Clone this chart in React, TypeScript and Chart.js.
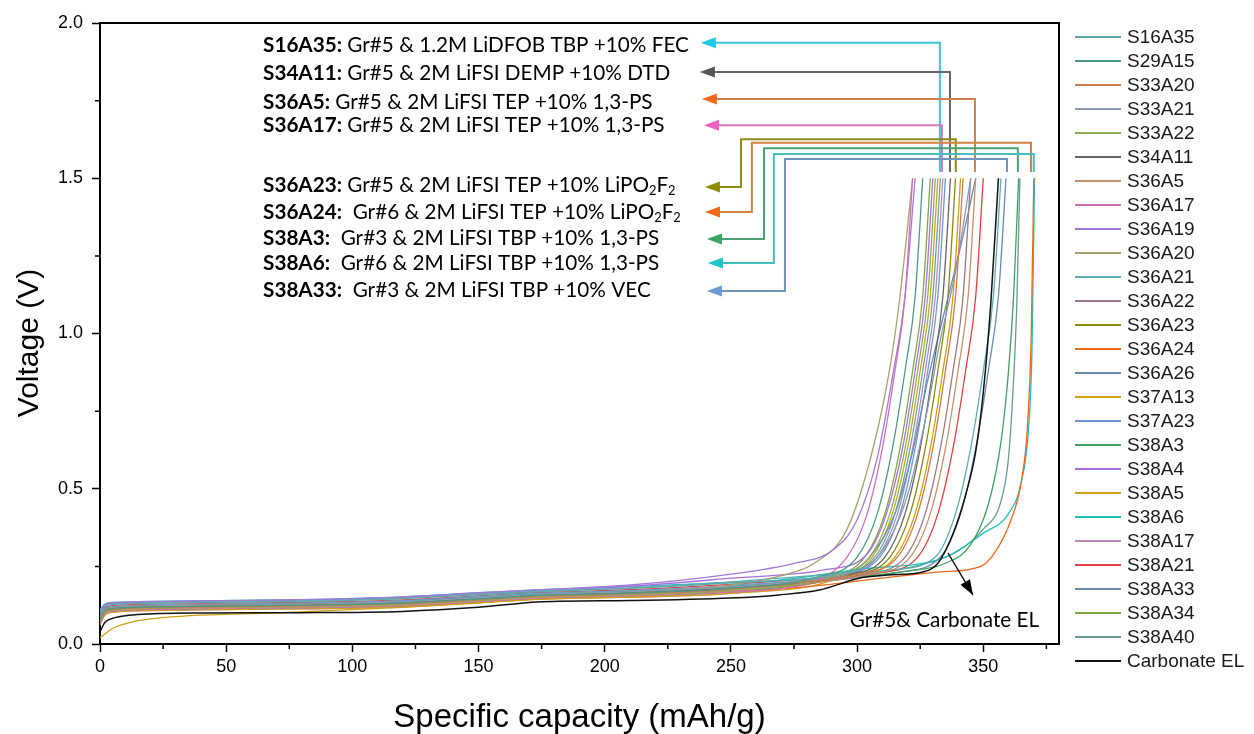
import React, { useEffect, useRef } from "react";
import { Chart, registerables } from "chart.js";
Chart.register(...registerables);

type P = [number, number];

// ---------- series (Specific capacity mAh/g, Voltage V) ----------
const S16A35: P[] = [[0,0.101],[2,0.122],[6,0.128],[15,0.131],[40,0.134],[80,0.137],[120,0.146],[150,0.159],[175,0.169],[210,0.179],[250,0.197],[291,0.225],[307,0.28],[315,0.42],[321,0.63],[326,0.88],[330,1.12],[333,1.5]];
const S29A15: P[] = [[0,0.080],[2,0.107],[6,0.115],[15,0.118],[40,0.121],[80,0.125],[120,0.132],[150,0.145],[175,0.157],[210,0.164],[250,0.179],[284,0.215],[300,0.28],[308,0.42],[314,0.63],[319,0.88],[323,1.12],[326,1.5]];
const S33A20: P[] = [[0,0.077],[2,0.104],[6,0.113],[15,0.116],[40,0.119],[80,0.123],[120,0.130],[150,0.143],[175,0.155],[210,0.162],[250,0.176],[280,0.2],[300,0.225],[316,0.28],[324,0.42],[330,0.63],[335,0.88],[339,1.12],[342,1.5]];
const S33A21: P[] = [[0,0.086],[2,0.111],[6,0.118],[15,0.122],[40,0.125],[80,0.128],[120,0.136],[150,0.149],[175,0.160],[210,0.168],[250,0.184],[280,0.205],[295,0.222],[310,0.3],[320,0.48],[327,0.72],[333,0.98],[339,1.2],[345,1.5]];
const S33A22: P[] = [[0,0.074],[2,0.102],[6,0.111],[15,0.114],[40,0.117],[80,0.121],[120,0.128],[150,0.141],[175,0.153],[210,0.160],[250,0.173],[289,0.215],[305,0.28],[313,0.42],[319,0.63],[324,0.88],[328,1.12],[331,1.5]];
const S34A11: P[] = [[0,0.083],[2,0.109],[6,0.116],[15,0.120],[40,0.123],[80,0.126],[120,0.134],[150,0.147],[175,0.158],[210,0.166],[250,0.181],[295,0.222],[311,0.28],[319,0.42],[325,0.63],[330,0.88],[334,1.12],[337,1.5]];
const S36A5: P[] = [[0,0.071],[2,0.100],[6,0.109],[15,0.113],[40,0.116],[80,0.119],[120,0.126],[150,0.139],[175,0.151],[210,0.158],[250,0.171],[280,0.195],[305,0.225],[321,0.28],[329,0.42],[335,0.63],[340,0.88],[344,1.12],[347,1.5]];
const S36A17: P[] = [[0,0.068],[2,0.098],[6,0.107],[15,0.111],[40,0.114],[80,0.117],[120,0.124],[150,0.137],[175,0.149],[210,0.156],[250,0.168],[280,0.196],[296,0.28],[304,0.42],[310,0.63],[315,0.88],[319,1.12],[322,1.5]];
const S36A19: P[] = [[0,0.11],[2,0.128],[6,0.134],[15,0.136],[40,0.139],[80,0.143],[120,0.152],[150,0.165],[175,0.175],[210,0.19],[250,0.225],[275,0.26],[290,0.3],[300,0.4],[308,0.6],[314,0.86],[319,1.12],[323,1.5]];
const S36A20: P[] = [[0,0.080],[2,0.107],[6,0.115],[15,0.118],[40,0.121],[80,0.125],[120,0.132],[150,0.145],[175,0.157],[210,0.166],[250,0.19],[270,0.22],[283,0.26],[296,0.37],[306,0.62],[313,0.89],[317,1.12],[322,1.5]];
const S36A21: P[] = [[0,0.104],[2,0.124],[6,0.130],[15,0.132],[40,0.135],[80,0.139],[120,0.148],[150,0.161],[175,0.171],[210,0.181],[250,0.200],[290,0.225],[315,0.24],[331,0.28],[339,0.42],[345,0.63],[350,0.88],[354,1.12],[357,1.5]];
const S36A22: P[] = [[0,0.074],[2,0.102],[6,0.111],[15,0.114],[40,0.117],[80,0.121],[120,0.128],[150,0.141],[175,0.153],[210,0.160],[250,0.173],[280,0.198],[303,0.225],[319,0.28],[327,0.42],[333,0.63],[338,0.88],[342,1.12],[345,1.5]];
const S36A23: P[] = [[0,0.071],[2,0.100],[6,0.109],[15,0.113],[40,0.116],[80,0.119],[120,0.126],[150,0.139],[175,0.151],[210,0.158],[250,0.171],[297,0.222],[313,0.28],[321,0.42],[327,0.63],[332,0.88],[336,1.12],[339,1.5]];
const S36A24: P[] = [[0,0.086],[2,0.111],[6,0.118],[15,0.122],[40,0.125],[80,0.128],[120,0.134],[150,0.143],[175,0.150],[210,0.158],[250,0.168],[281,0.185],[310,0.212],[333,0.232],[349,0.25],[355,0.3],[361,0.4],[365,0.52],[367.5,0.7],[369,1.0],[370,1.5]];
const S36A26: P[] = [[0,0.068],[2,0.098],[6,0.107],[15,0.111],[40,0.114],[80,0.117],[120,0.124],[150,0.137],[175,0.149],[210,0.156],[250,0.168],[275,0.19],[290,0.21],[305,0.28],[315,0.42],[322,0.62],[328,0.85],[334,1.05],[341,1.28],[347,1.5]];
const S37A13: P[] = [[0,0.02],[5,0.05],[15,0.075],[25,0.085],[40,0.093],[70,0.1],[120,0.118],[150,0.132],[175,0.145],[210,0.152],[250,0.168],[280,0.195],[299,0.222],[315,0.28],[323,0.42],[329,0.63],[334,0.88],[338,1.12],[341,1.5]];
const S37A23: P[] = [[0,0.092],[2,0.115],[6,0.122],[15,0.125],[40,0.128],[80,0.132],[120,0.140],[150,0.153],[175,0.164],[210,0.172],[250,0.189],[293,0.225],[309,0.28],[317,0.42],[323,0.63],[328,0.88],[332,1.12],[335,1.5]];
const S38A3: P[] = [[0,0.089],[2,0.113],[6,0.120],[15,0.123],[40,0.126],[80,0.130],[120,0.138],[150,0.151],[175,0.162],[210,0.170],[250,0.186],[290,0.21],[320,0.235],[335,0.26],[345,0.32],[352,0.45],[357,0.65],[360,0.88],[362,1.12],[364,1.5]];
const S38A4: P[] = [[0,0.107],[2,0.126],[6,0.132],[15,0.134],[40,0.137],[80,0.141],[120,0.150],[150,0.163],[175,0.173],[210,0.186],[250,0.212],[288,0.24],[304,0.29],[312,0.43],[318,0.63],[323,0.88],[327,1.12],[330,1.5]];
const S38A5: P[] = [[0,0.062],[2,0.094],[6,0.103],[15,0.107],[40,0.110],[80,0.113],[120,0.120],[150,0.133],[175,0.145],[210,0.151],[250,0.163],[290,0.205],[306,0.28],[314,0.42],[320,0.63],[325,0.88],[329,1.12],[332,1.5]];
const S38A6: P[] = [[0,0.11],[2,0.128],[6,0.134],[15,0.136],[40,0.139],[80,0.143],[120,0.152],[150,0.165],[175,0.175],[210,0.185],[250,0.198],[269,0.206],[300,0.24],[335,0.28],[350,0.357],[360,0.42],[365,0.52],[368,0.7],[369.3,0.95],[370.3,1.5]];
const S38A17: P[] = [[0,0.062],[2,0.094],[6,0.103],[15,0.107],[40,0.110],[80,0.113],[120,0.120],[150,0.133],[175,0.145],[210,0.151],[250,0.163],[292,0.215],[308,0.28],[316,0.42],[322,0.63],[327,0.88],[331,1.12],[334,1.5]];
const S38A21: P[] = [[0,0.095],[2,0.117],[6,0.124],[15,0.127],[40,0.130],[80,0.134],[120,0.142],[150,0.155],[175,0.166],[210,0.175],[250,0.192],[290,0.215],[308,0.228],[324,0.28],[332,0.42],[338,0.63],[343,0.88],[347,1.12],[350,1.5]];
const S38A33: P[] = [[0,0.077],[2,0.104],[6,0.113],[15,0.116],[40,0.119],[80,0.123],[120,0.130],[150,0.143],[175,0.155],[210,0.162],[250,0.176],[290,0.205],[317,0.232],[333,0.28],[341,0.42],[347,0.63],[352,0.88],[356,1.12],[359,1.5]];
const S38A34: P[] = [[0,0.068],[2,0.098],[6,0.107],[15,0.111],[40,0.114],[80,0.117],[120,0.124],[150,0.137],[175,0.149],[210,0.156],[250,0.168],[287,0.212],[303,0.28],[311,0.42],[317,0.63],[322,0.88],[326,1.12],[329,1.5]];
const S38A40: P[] = [[0,0.083],[2,0.109],[6,0.116],[15,0.120],[40,0.123],[80,0.126],[120,0.134],[150,0.147],[175,0.158],[210,0.166],[250,0.181],[290,0.21],[320,0.245],[340,0.30],[350,0.37],[357,0.46],[360,0.6],[362,0.85],[363.3,1.1],[364.5,1.5]];
const CarbonateEL: P[] = [[0,0.04],[2,0.07],[6,0.085],[15,0.095],[40,0.1],[80,0.101],[120,0.105],[150,0.118],[175,0.136],[210,0.14],[250,0.148],[269,0.158],[285,0.174],[302,0.214],[312,0.222],[326,0.232],[332,0.26],[338,0.355],[343,0.48],[347,0.62],[350,0.81],[353,1.1],[356,1.5]];

const seriesNames = ["S16A35","S29A15","S33A20","S33A21","S33A22","S34A11","S36A5","S36A17","S36A19","S36A20","S36A21","S36A22","S36A23","S36A24","S36A26","S37A13","S37A23","S38A3","S38A4","S38A5","S38A6","S38A17","S38A21","S38A33","S38A34","S38A40","Carbonate EL"];
const seriesData: P[][] = [S16A35,S29A15,S33A20,S33A21,S33A22,S34A11,S36A5,S36A17,S36A19,S36A20,S36A21,S36A22,S36A23,S36A24,S36A26,S37A13,S37A23,S38A3,S38A4,S38A5,S38A6,S38A17,S38A21,S38A33,S38A34,S38A40,CarbonateEL];
const seriesColors = ["#5fa8a8","#4e9a80","#cf7a50","#8a9ab0","#8aae5c","#666666","#c8906a","#d070b0","#a07ad8","#a8a070","#5ab0b0","#9a7a80","#8a8a10","#ee6a1a","#6a8ab8","#d0a010","#6a9ad0","#40a060","#a870e0","#d0a020","#20c0c0","#c088b0","#e04040","#6a8ab0","#80a840","#6a9a8a","#111111"];

// ---------- axes ----------
const xMin = 0, xMax = 380, xStep = 50;
const yMin = 0, yMax = 2, yStep = 0.5;
const xMinorTicks = [25, 75, 125, 175, 225, 275, 325, 375];
const yMinorTicks = [0.25, 0.75, 1.25, 1.75];
const xTitle = "Specific capacity (mAh/g)";
const yTitle = "Voltage (V)";

// ---------- annotations ----------
const noteLabels = ["S16A35:","S34A11:","S36A5:","S36A17:","S36A23:","S36A24:","S38A3:","S38A6:","S38A33:"];
const noteTexts: string[][] = [
  [" Gr#5 & 1.2M LiDFOB TBP +10% FEC"],
  [" Gr#5 & 2M LiFSI DEMP +10% DTD"],
  [" Gr#5 & 2M LiFSI TEP +10% 1,3-PS"],
  [" Gr#5 & 2M LiFSI TEP +10% 1,3-PS"],
  [" Gr#5 & 2M LiFSI TEP +10% LiPO","_2","F","_2"],
  ["  Gr#6 & 2M LiFSI TEP +10% LiPO","_2","F","_2"],
  ["  Gr#3 & 2M LiFSI TBP +10% 1,3-PS"],
  ["  Gr#6 & 2M LiFSI TBP +10% 1,3-PS"],
  ["  Gr#3 & 2M LiFSI TBP +10% VEC"],
];
const noteX = 64.6;
const noteY = [1.929, 1.839, 1.746, 1.671, 1.478, 1.391, 1.308, 1.227, 1.140];
const leaderPaths: P[][] = [
  [[238.1,1.936],[332.8,1.936],[332.8,1.52]],
  [[237.7,1.842],[336.8,1.842],[336.8,1.52]],
  [[238.5,1.755],[346.7,1.755],[346.7,1.52]],
  [[239.3,1.671],[333.6,1.671],[333.6,1.52]],
  [[239.7,1.472],[254.0,1.472],[254.0,1.626],[339.1,1.626],[339.1,1.52]],
  [[239.7,1.391],[258.3,1.391],[258.3,1.614],[368.9,1.614],[368.9,1.52]],
  [[240.5,1.304],[263.1,1.304],[263.1,1.597],[363.7,1.597],[363.7,1.52]],
  [[240.9,1.227],[267.0,1.227],[267.0,1.578],[370.0,1.578],[370.0,1.52]],
  [[240.5,1.137],[271.4,1.137],[271.4,1.562],[359.4,1.562],[359.4,1.52]],
];
const leaderColors = ["#3cc4dc","#666666","#cc8050","#d07ab8","#8c8c18","#d48040","#4ea070","#44bcc0","#7094bc"];
const arrowColors = ["#1ec8e6","#555555","#f26a1b","#f060c0","#8c8c00","#f06a1a","#3aa565","#1ec4c8","#6a9ad0"];
const carbNote = "Gr#5& Carbonate EL";
const carbNoteX = 297.1;
const carbNoteY = 0.077;
const carbArrow: P[] = [[336.0, 0.293], [345.9, 0.158]];

const AXIS_FONT = "'Liberation Sans', Arial, sans-serif";
const NOTE_FONT = "Lato, 'Open Sans', sans-serif";

function arrowHead(ctx: CanvasRenderingContext2D, tx: number, ty: number, fx: number, fy: number, len: number, half: number, color: string) {
  const a = Math.atan2(fy - ty, fx - tx);
  const bx = tx + Math.cos(a) * len, by = ty + Math.sin(a) * len;
  ctx.beginPath();
  ctx.moveTo(tx, ty);
  ctx.lineTo(bx - Math.sin(a) * half, by + Math.cos(a) * half);
  ctx.lineTo(bx + Math.sin(a) * half, by - Math.cos(a) * half);
  ctx.closePath();
  ctx.fillStyle = color;
  ctx.fill();
}

const decorPlugin = {
  id: "decor",
  afterDraw(chart: any) {
    const ctx: CanvasRenderingContext2D = chart.ctx;
    const xs = chart.scales.x, ys = chart.scales.y;
    const { left, right, top, bottom } = chart.chartArea;
    ctx.save();
    // frame top/right
    ctx.strokeStyle = "#000";
    ctx.lineWidth = 2;
    ctx.beginPath();
    ctx.moveTo(left - 1, top);
    ctx.lineTo(right, top);
    ctx.lineTo(right, bottom + 1);
    ctx.stroke();
    // minor ticks
    ctx.lineWidth = 1.5;
    ctx.beginPath();
    xMinorTicks.forEach((v) => {
      const px = xs.getPixelForValue(v);
      ctx.moveTo(px, bottom);
      ctx.lineTo(px, bottom + 5);
    });
    yMinorTicks.forEach((v) => {
      const py = ys.getPixelForValue(v);
      ctx.moveTo(left, py);
      ctx.lineTo(left - 5, py);
    });
    ctx.stroke();
    // axis titles
    ctx.fillStyle = "#000";
    ctx.textBaseline = "middle";
    ctx.textAlign = "center";
    ctx.font = `33px ${AXIS_FONT}`;
    ctx.fillText(xTitle, (left + right) / 2, 718);
    ctx.save();
    ctx.translate(30, 343);
    ctx.rotate(-Math.PI / 2);
    ctx.font = `30px ${AXIS_FONT}`;
    ctx.fillText(yTitle, 0, 0);
    ctx.restore();

    // legend
    ctx.textAlign = "left";
    ctx.font = `19px ${AXIS_FONT}`;
    seriesNames.forEach((name, i) => {
      const y = 37 + i * 24;
      ctx.strokeStyle = seriesColors[i];
      ctx.lineWidth = 2;
      ctx.beginPath();
      ctx.moveTo(1075, y);
      ctx.lineTo(1121, y);
      ctx.stroke();
      ctx.fillStyle = "#1a1a1a";
      ctx.fillText(name, 1127, y + 1);
    });

    // leaders
    leaderPaths.forEach((path, i) => {
      ctx.strokeStyle = leaderColors[i];
      ctx.lineWidth = 2;
      ctx.beginPath();
      path.forEach(([vx, vy], k) => {
        const px = xs.getPixelForValue(vx), py = ys.getPixelForValue(vy);
        if (k === 0) ctx.moveTo(px + 8, py); else ctx.lineTo(px, py);
      });
      ctx.stroke();
      const tx = xs.getPixelForValue(path[0][0]), ty = ys.getPixelForValue(path[0][1]);
      arrowHead(ctx, tx, ty, tx + 10, ty, 15, 5.5, arrowColors[i]);
    });

    // note texts with fitted size
    ctx.font = `bold 20px ${NOTE_FONT}`;
    let w0 = ctx.measureText(noteLabels[0]).width;
    ctx.font = `20px ${NOTE_FONT}`;
    w0 += ctx.measureText(noteTexts[0][0]).width;
    const fs = (20 * 426) / w0;
    noteLabels.forEach((lab, i) => {
      let x = xs.getPixelForValue(noteX);
      const y = ys.getPixelForValue(noteY[i]);
      ctx.fillStyle = "#000";
      ctx.font = `bold ${fs}px ${NOTE_FONT}`;
      ctx.fillText(lab, x, y);
      x += ctx.measureText(lab).width;
      noteTexts[i].forEach((part) => {
        if (part.startsWith("_")) {
          const t = part.slice(1);
          ctx.font = `${fs * 0.62}px ${NOTE_FONT}`;
          ctx.fillText(t, x, y + fs * 0.3);
          x += ctx.measureText(t).width;
        } else {
          ctx.font = `${fs}px ${NOTE_FONT}`;
          ctx.fillText(part, x, y);
          x += ctx.measureText(part).width;
        }
      });
    });
    // carbonate note
    ctx.font = `${fs}px ${NOTE_FONT}`;
    ctx.fillStyle = "#000";
    ctx.fillText(carbNote, xs.getPixelForValue(carbNoteX), ys.getPixelForValue(carbNoteY));
    const ax0 = xs.getPixelForValue(carbArrow[0][0]), ay0 = ys.getPixelForValue(carbArrow[0][1]);
    const ax1 = xs.getPixelForValue(carbArrow[1][0]), ay1 = ys.getPixelForValue(carbArrow[1][1]);
    ctx.strokeStyle = "#000";
    ctx.lineWidth = 1.3;
    ctx.beginPath();
    ctx.moveTo(ax0, ay0);
    ctx.lineTo(ax1, ay1);
    ctx.stroke();
    arrowHead(ctx, ax1, ay1, ax0, ay0, 15, 5.5, "#000");
    ctx.restore();
  },
};

export default function App() {
  const ref = useRef<HTMLCanvasElement | null>(null);
  useEffect(() => {
    if (!ref.current) return;
    const chart = new Chart(ref.current, {
      type: "line",
      data: {
        datasets: seriesData.map((d, i) => ({
          label: seriesNames[i],
          data: d as any,
          borderColor: seriesColors[i],
          backgroundColor: seriesColors[i],
          borderWidth: i === seriesData.length - 1 ? 1.5 : 1.3,
          pointRadius: 0,
          fill: false,
          cubicInterpolationMode: "monotone" as const,
          order: i === seriesData.length - 1 ? -1 : 0,
        })),
      },
      options: {
        responsive: false,
        animation: false,
        devicePixelRatio: 1,
        layout: { padding: { left: 0, top: 23, right: 195, bottom: 0 } },
        plugins: { legend: { display: false }, tooltip: { enabled: false } },
        scales: {
          x: {
            type: "linear",
            min: xMin,
            max: xMax,
            afterFit: (s: any) => { s.height = 90; },
            ticks: {
              stepSize: xStep,
              includeBounds: false,
              autoSkip: false,
              maxRotation: 0,
              padding: 4,
              color: "#000",
              font: { family: AXIS_FONT, size: 18 },
            },
            grid: { drawOnChartArea: false, drawTicks: true, tickLength: 8, tickColor: "#000", tickWidth: 1.5 },
            border: { display: true, color: "#000", width: 2 },
          },
          y: {
            type: "linear",
            min: yMin,
            max: yMax,
            afterFit: (s: any) => { s.width = 100; },
            ticks: {
              stepSize: yStep,
              includeBounds: false,
              padding: 9,
              color: "#000",
              font: { family: AXIS_FONT, size: 18 },
              callback: (v: any) => Number(v).toFixed(1),
            },
            grid: { drawOnChartArea: false, drawTicks: true, tickLength: 8, tickColor: "#000", tickWidth: 1.5 },
            border: { display: true, color: "#000", width: 2 },
          },
        },
      } as any,
      plugins: [decorPlugin],
    });
    return () => chart.destroy();
  }, []);
  return (
    <div style={{ position: "fixed", left: 0, top: 0, width: 1254, height: 734, background: "#fff" }}>
      <canvas ref={ref} width={1254} height={734} style={{ display: "block" }} />
    </div>
  );
}
